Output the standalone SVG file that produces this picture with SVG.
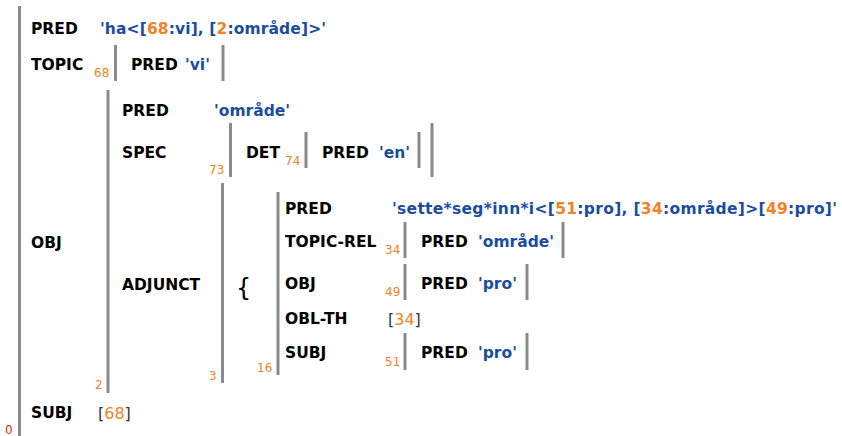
<svg xmlns="http://www.w3.org/2000/svg" width="842" height="436" viewBox="0 0 842 436">
<style>
.a{font-family:"DejaVu Sans",Verdana,sans-serif;font-weight:bold;font-size:15.5px;fill:#000}
.v{font-family:"DejaVu Sans",Verdana,sans-serif;font-weight:bold;font-size:15.5px;fill:#1b4d9e}
.o{fill:#f58025}
.n{font-family:"DejaVu Sans",Verdana,sans-serif;font-size:12px;fill:#f58025}
.z{font-family:"DejaVu Sans",Verdana,sans-serif;font-size:12px;fill:#e8231b}
.r{font-family:"DejaVu Sans",Verdana,sans-serif;font-size:16px;fill:#f58025}
.rb{fill:#333}
.b{stroke:#8a8a8a;stroke-width:3;fill:none}
.br{font-family:"DejaVu Sans",sans-serif;font-size:24px;fill:#000}
</style>
<rect width="842" height="436" fill="#fff"/>
<g id="connectors"/>
<g id="f0">
<line class="b" x1="19.5" y1="6" x2="19.5" y2="436"/>
<text class="z" x="5" y="434">0</text>
<text class="a" x="31" y="34">PRED</text>
<text class="v" x="100" y="34" textLength="226">'ha&lt;[<tspan class="o">68</tspan>:vi], [<tspan class="o">2</tspan>:område]&gt;'</text>
<text class="a" x="31" y="70">TOPIC</text>
<text class="a" x="31" y="248">OBJ</text>
<text class="a" x="31" y="418">SUBJ</text>
<text class="r" x="98" y="419"><tspan class="rb">[</tspan>68<tspan class="rb">]</tspan></text>
</g>
<g id="f68">
<line class="b" x1="115.5" y1="45" x2="115.5" y2="81"/>
<line class="b" x1="223" y1="45" x2="223" y2="81"/>
<text class="n" x="94" y="77">68</text>
<text class="a" x="131" y="70">PRED</text>
<text class="v" x="185" y="70">'vi'</text>
</g>
<g id="f2">
<line class="b" x1="108" y1="90" x2="108" y2="393"/>
<text class="n" x="95" y="389">2</text>
<text class="a" x="122" y="116">PRED</text>
<text class="v" x="214" y="116">'område'</text>
<text class="a" x="122" y="158">SPEC</text>
<text class="a" x="122" y="290">ADJUNCT</text>
</g>
<g id="f73">
<line class="b" x1="230.5" y1="123" x2="230.5" y2="177"/>
<line class="b" x1="432" y1="123" x2="432" y2="177"/>
<text class="n" x="209" y="174">73</text>
<text class="a" x="246" y="158">DET</text>
</g>
<g id="f74">
<line class="b" x1="306" y1="132" x2="306" y2="168"/>
<line class="b" x1="419" y1="132" x2="419" y2="168"/>
<text class="n" x="285" y="165">74</text>
<text class="a" x="322" y="158">PRED</text>
<text class="v" x="379" y="158">'en'</text>
</g>
<g id="f3">
<line class="b" x1="222.5" y1="183" x2="222.5" y2="383"/>
<text class="n" x="209" y="380">3</text>
<text class="br" x="236" y="296">{</text>
</g>
<g id="f16">
<line class="b" x1="278" y1="192" x2="278" y2="375"/>
<text class="n" x="257" y="372">16</text>
<text class="a" x="285" y="214">PRED</text>
<text class="v" x="392" y="214" textLength="445">'sette*seg*inn*i&lt;[<tspan class="o">51</tspan>:pro], [<tspan class="o">34</tspan>:område]&gt;[<tspan class="o">49</tspan>:pro]'</text>
<text class="a" x="285" y="247">TOPIC-REL</text>
<text class="a" x="285" y="289">OBJ</text>
<text class="a" x="285" y="324">OBL-TH</text>
<text class="r" x="388" y="325"><tspan class="rb">[</tspan>34<tspan class="rb">]</tspan></text>
<text class="a" x="285" y="358">SUBJ</text>
</g>
<g id="f34">
<line class="b" x1="405" y1="222" x2="405" y2="258"/>
<line class="b" x1="563" y1="222" x2="563" y2="258"/>
<text class="n" x="385" y="254">34</text>
<text class="a" x="421" y="247">PRED</text>
<text class="v" x="478" y="247">'område'</text>
</g>
<g id="f49">
<line class="b" x1="405" y1="264" x2="405" y2="300"/>
<line class="b" x1="527" y1="264" x2="527" y2="300"/>
<text class="n" x="385" y="296">49</text>
<text class="a" x="421" y="289">PRED</text>
<text class="v" x="478" y="289">'pro'</text>
</g>
<g id="f51">
<line class="b" x1="405" y1="333" x2="405" y2="370"/>
<line class="b" x1="527" y1="333" x2="527" y2="370"/>
<text class="n" x="385" y="366">51</text>
<text class="a" x="421" y="358">PRED</text>
<text class="v" x="478" y="358">'pro'</text>
</g>
</svg>
